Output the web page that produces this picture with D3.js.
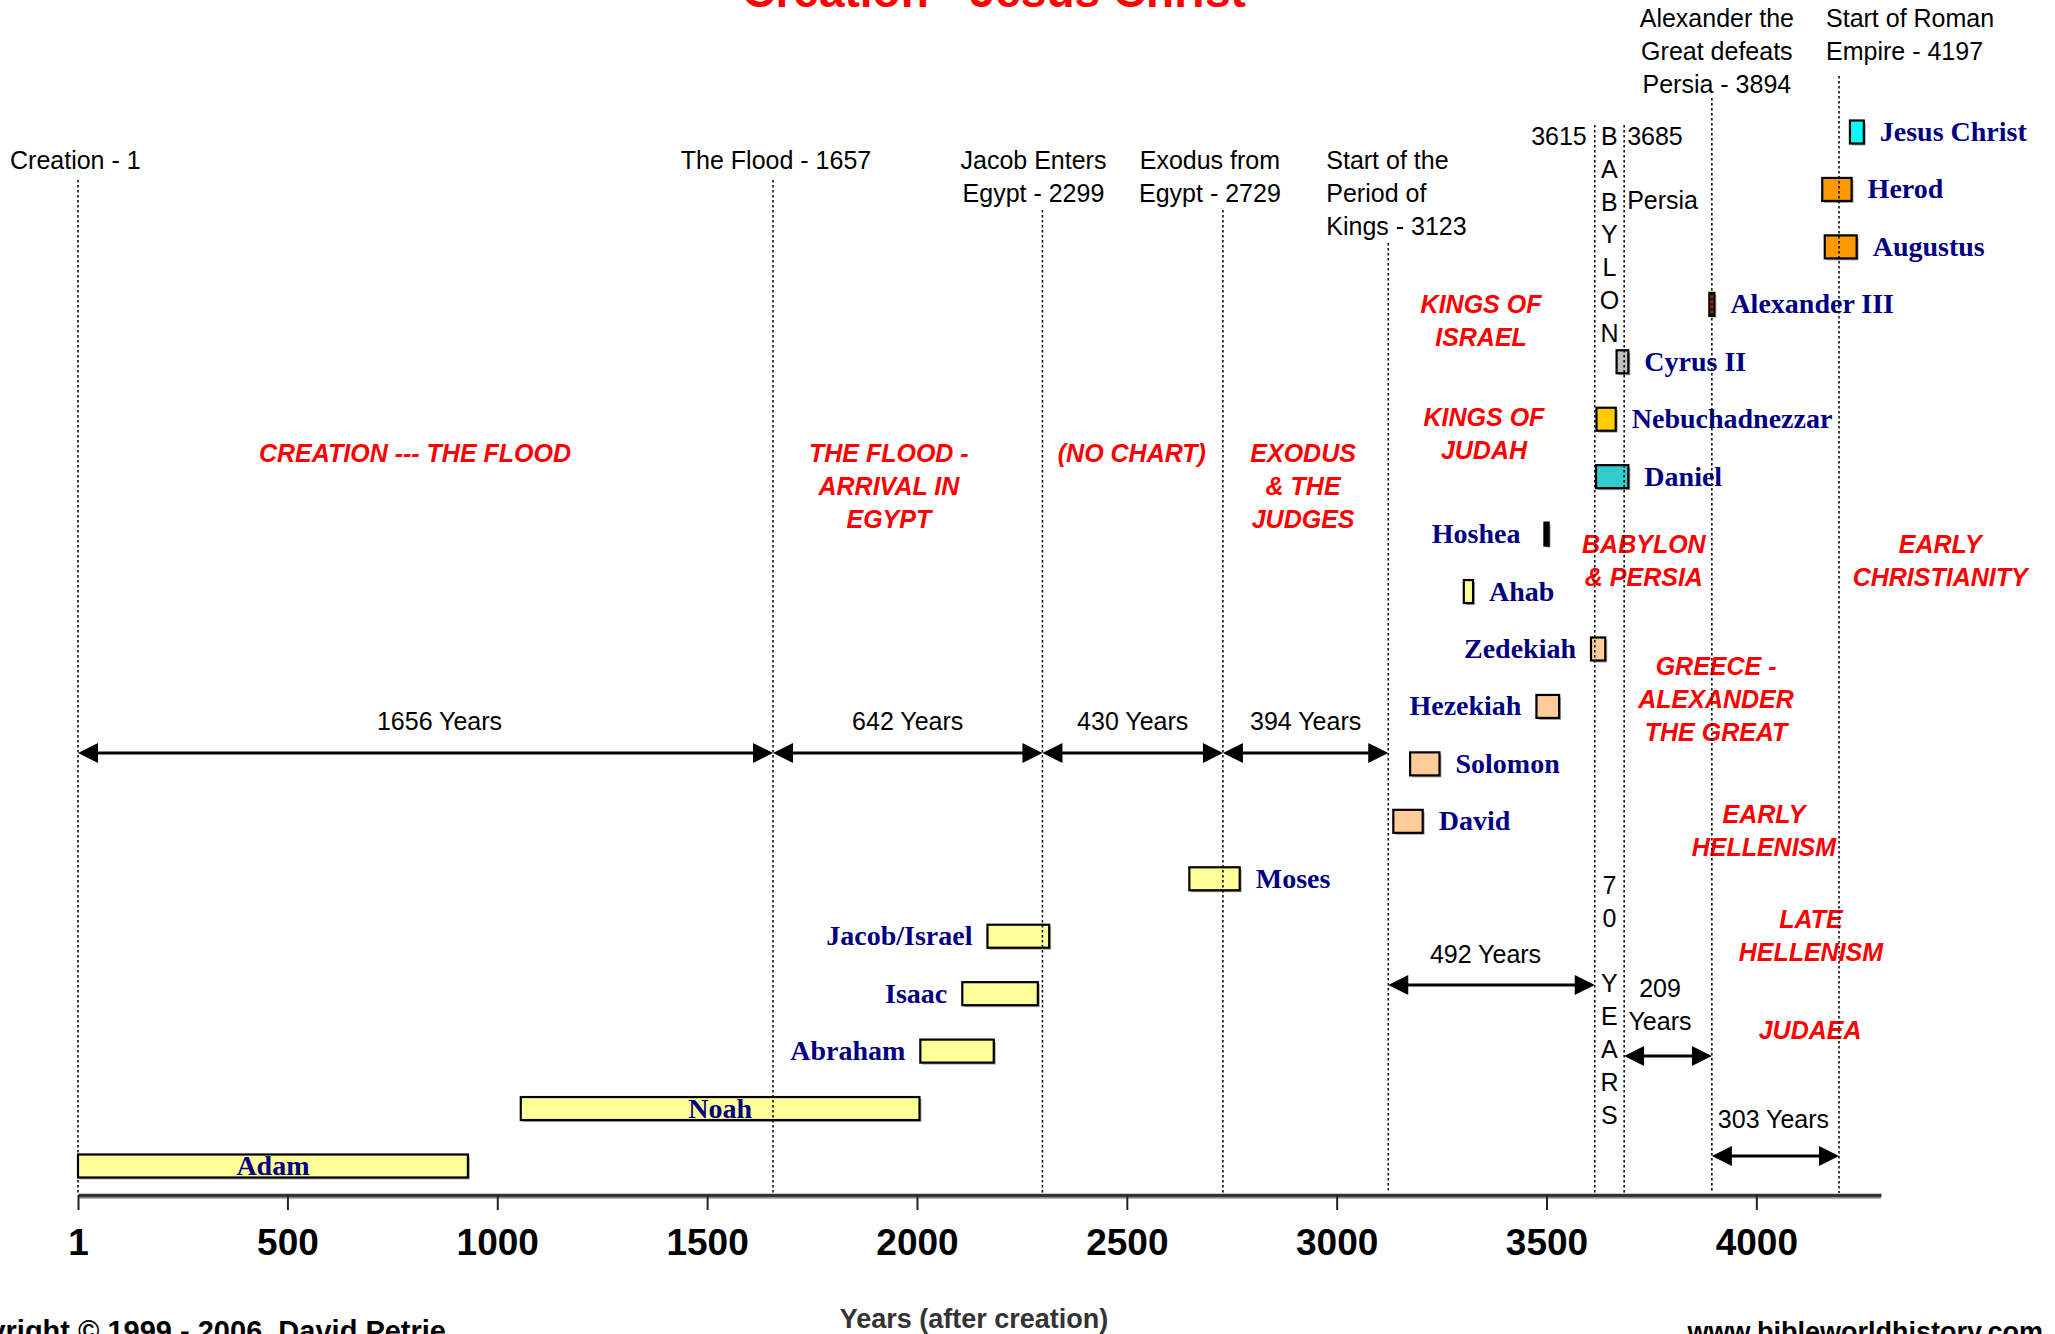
<!DOCTYPE html>
<html>
<head>
<meta charset="utf-8">
<script src="https://cdn.jsdelivr.net/npm/d3@7"></script>
<style>
  html, body { margin: 0; padding: 0; background: #ffffff; }
  svg { display: block; }
</style>
</head>
<body>
<svg id="chart" width="2055" height="1334"></svg>
<script>
// ---------------- DATA ----------------
const people    = ["Adam","Noah","Abraham","Isaac","Jacob/Israel","Moses","David","Solomon","Hezekiah","Zedekiah","Ahab","Hoshea","Daniel","Nebuchadnezzar","Cyrus II","Alexander III","Augustus","Herod","Jesus Christ"];
const bornYears = [1,   1056, 2008, 2108, 2168, 2649, 3135, 3175, 3476, 3606, 3303, 3495, 3618, 3619, 3667, 3888, 4163, 4157, 4223];
const endYears  = [930, 2006, 2183, 2288, 2315, 2769, 3205, 3245, 3530, 3640, 3325, 3505, 3695, 3665, 3695, 3900, 4239, 4227, 4256];

const eventYears  = [1, 1657, 2299, 2729, 3123, 3615, 3685, 3894, 4197];
const eventLabels = [
  ["Creation - 1"],
  ["The Flood - 1657"],
  ["Jacob Enters", "Egypt - 2299"],
  ["Exodus from", "Egypt - 2729"],
  ["Start of the", "Period of", "Kings - 3123"],
  ["3615"],
  ["3685"],
  ["Alexander the", "Great defeats", "Persia - 3894"],
  ["Start of Roman", "Empire - 4197"]
];

const spanStarts = [1, 1657, 2299, 2729, 3123, 3685, 3894];
const spanEnds   = [1657, 2299, 2729, 3123, 3615, 3894, 4197];
const spanLabels = [["1656 Years"], ["642 Years"], ["430 Years"], ["394 Years"], ["492 Years"], ["209", "Years"], ["303 Years"]];

const eraLabels = [
  ["CREATION --- THE FLOOD"],
  ["THE FLOOD -", "ARRIVAL IN", "EGYPT"],
  ["(NO CHART)"],
  ["EXODUS", "& THE", "JUDGES"],
  ["KINGS OF", "ISRAEL"],
  ["KINGS OF", "JUDAH"],
  ["BABYLON", "& PERSIA"],
  ["EARLY", "CHRISTIANITY"],
  ["GREECE -", "ALEXANDER", "THE GREAT"],
  ["EARLY", "HELLENISM"],
  ["LATE", "HELLENISM"],
  ["JUDAEA"]
];

const babylonLetters = ["B","A","B","Y","L","O","N"];
const seventyLetters = ["7","0"," ","Y","E","A","R","S"];
const persiaLabel = "Persia";

const tickValues = [1, 500, 1000, 1500, 2000, 2500, 3000, 3500, 4000];
const chartTitle = "Creation - Jesus Christ";
const axisTitle = "Years (after creation)";
const copyrightText = "Copyright \u00A9 1999 - 2006, David Petrie";
const siteText = "www.bibleworldhistory.com";

// ---------------- STYLE / LAYOUT ----------------
const barFill = {
  "Adam":"#FFFF99","Noah":"#FFFF99","Abraham":"#FFFF99","Isaac":"#FFFF99","Jacob/Israel":"#FFFF99","Moses":"#FFFF99",
  "David":"#FFCC99","Solomon":"#FFCC99","Hezekiah":"#FFCC99","Zedekiah":"#FFCC99","Ahab":"#FFFF99","Hoshea":"#000000",
  "Daniel":"#33CCCC","Nebuchadnezzar":"#FFCC00","Cyrus II":"#C0C0C0","Alexander III":"#993300",
  "Augustus":"#FF9900","Herod":"#FF9900","Jesus Christ":"#00FFFF"
};
const labelSide = {
  "Adam":"inside","Noah":"inside","Abraham":"left","Isaac":"left","Jacob/Israel":"left","Hezekiah":"left",
  "Zedekiah":"left","Hoshea":"left"
};
const labelGap = { "Hoshea": 24 };
const eventLineTop = [180, 180, 210, 210, 243, 125, 125, 98, 76];
const eventLabelLayout = [ // [anchor, dx from line, y of first line]
  ["start", -68, 160], ["middle", 3, 160], ["middle", -9, 160], ["middle", -13, 160],
  ["start", -62, 160], ["end", -8, 136], ["start", 3, 136], ["middle", 5, 18], ["start", -13, 18]
];
const spanY = [753, 753, 753, 753, 985, 1056, 1156];
const spanLabelY = [721, 721, 721, 721, 954, 988, 1119];
const spanLabelDx = [14, 0, 0, 0, -6, -8, -2];
const eraPos = [ // [year for x centre, y of first line]
  [804, 453], [1933, 453], [2512, 453], [2920, 453], [3344, 304], [3351, 417],
  [3732, 544], [4438, 544], [3904, 666], [4018, 814], [4130, 919], [4128, 1030]
];

const W = 2055, H = 1334;
const axisY = 1195;
const lineH = 33;
const barH = 23;
const sans = "'Liberation Sans', Arial, sans-serif";
const serif = "'Liberation Serif', 'Times New Roman', serif";

const svg = d3.select("#chart");
svg.append("rect").attr("width", W).attr("height", H).attr("fill", "#ffffff");

// ---------------- SCALES ----------------
const x = d3.scaleLinear().domain([1, 4297]).range([78, 1881]);
const y = d3.scalePoint().domain(people).range([1166, 132]);

// ---------------- TITLE ----------------
svg.append("text")
  .attr("x", 994).attr("y", 7)
  .attr("text-anchor", "middle")
  .attr("font-family", sans).attr("font-weight", "bold").attr("font-size", 46)
  .attr("fill", "#FF0000")
  .text(chartTitle);

// ---------------- AXIS ----------------
const axisG = svg.append("g").attr("transform", `translate(0,${axisY})`);
axisG.append("line")
  .attr("x1", x(1)).attr("x2", x(4297)).attr("y1", 3).attr("y2", 3)
  .attr("stroke", "#b0b0b0").attr("stroke-width", 2);
axisG.call(d3.axisBottom(x).tickValues(tickValues).tickSize(15).tickSizeOuter(0).tickPadding(19).tickFormat(d3.format("d")));
axisG.select(".domain").attr("stroke", "#333").attr("stroke-width", 3.5);
axisG.selectAll(".tick line").attr("stroke", "#222").attr("stroke-width", 2);
axisG.selectAll(".tick text")
  .attr("font-family", sans).attr("font-weight", "bold").attr("font-size", 37).attr("fill", "#000");

svg.append("text")
  .attr("x", 974).attr("y", 1328)
  .attr("text-anchor", "middle")
  .attr("font-family", sans).attr("font-weight", "bold").attr("font-size", 27)
  .attr("fill", "#333")
  .text(axisTitle);

svg.append("text")
  .attr("x", 446).attr("y", 1341)
  .attr("text-anchor", "end")
  .attr("font-family", sans).attr("font-weight", "bold").attr("font-size", 29)
  .attr("fill", "#000")
  .text(copyrightText);

svg.append("text")
  .attr("x", 2043).attr("y", 1341)
  .attr("text-anchor", "end")
  .attr("font-family", sans).attr("font-weight", "bold").attr("font-size", 27)
  .attr("fill", "#000")
  .text(siteText);

// ---------------- BARS ----------------
const rows = people.map((p, i) => ({ name: p, start: bornYears[i], end: endYears[i] }));
const barG = svg.append("g");
barG.selectAll("rect.shadow").data(rows).join("rect")
  .attr("class", "shadow")
  .attr("x", d => x(d.start) + 2).attr("y", d => y(d.name) - barH / 2 + 2)
  .attr("width", d => Math.max(2, x(d.end) - x(d.start))).attr("height", barH)
  .attr("fill", "#a8a8a8");
barG.selectAll("rect.bar").data(rows).join("rect")
  .attr("class", "bar")
  .attr("x", d => x(d.start)).attr("y", d => y(d.name) - barH / 2)
  .attr("width", d => Math.max(2, x(d.end) - x(d.start))).attr("height", barH)
  .attr("fill", d => barFill[d.name])
  .attr("stroke", "#000").attr("stroke-width", 2.2);

barG.selectAll("text.name").data(rows).join("text")
  .attr("class", "name")
  .attr("x", d => {
    const side = labelSide[d.name] || "right";
    const gap = labelGap[d.name] || 15;
    if (side === "inside") return (x(d.start) + x(d.end)) / 2;
    if (side === "left") return x(d.start) - gap;
    return x(d.end) + gap + 1;
  })
  .attr("y", d => y(d.name) + 9)
  .attr("text-anchor", d => {
    const side = labelSide[d.name] || "right";
    return side === "inside" ? "middle" : side === "left" ? "end" : "start";
  })
  .attr("font-family", serif).attr("font-weight", "bold").attr("font-size", 28)
  .attr("fill", "#000080")
  .text(d => d.name);

// ---------------- SPAN ARROWS ----------------
const headL = 20, headW = 10;
const spans = spanStarts.map((s, i) => ({ s, e: spanEnds[i], y: spanY[i], ly: spanLabelY[i], dx: spanLabelDx[i], lab: spanLabels[i] }));
const spanG = svg.append("g");
spans.forEach(sp => {
  const x0 = x(sp.s), x1 = x(sp.e);
  spanG.append("line")
    .attr("x1", x0 + 4).attr("x2", x1 - 4).attr("y1", sp.y).attr("y2", sp.y)
    .attr("stroke", "#000").attr("stroke-width", 3);
  spanG.append("path")
    .attr("d", `M${x0},${sp.y} L${x0 + headL},${sp.y - headW} L${x0 + headL},${sp.y + headW} Z`)
    .attr("fill", "#000");
  spanG.append("path")
    .attr("d", `M${x1},${sp.y} L${x1 - headL},${sp.y - headW} L${x1 - headL},${sp.y + headW} Z`)
    .attr("fill", "#000");
  sp.lab.forEach((t, k) => {
    spanG.append("text")
      .attr("x", (x0 + x1) / 2 + sp.dx).attr("y", sp.ly + k * lineH + 9)
      .attr("text-anchor", "middle")
      .attr("font-family", sans).attr("font-size", 25).attr("fill", "#000")
      .text(t);
  });
});

// ---------------- ERA LABELS ----------------
const eraG = svg.append("g");
eraLabels.forEach((lines, i) => {
  lines.forEach((t, k) => {
    eraG.append("text")
      .attr("x", x(eraPos[i][0])).attr("y", eraPos[i][1] + k * lineH + 9)
      .attr("text-anchor", "middle")
      .attr("font-family", sans).attr("font-weight", "bold").attr("font-style", "italic")
      .attr("font-size", 25).attr("fill", "#FF0000")
      .text(t);
  });
});

// ---------------- EVENT LABELS ----------------
const evG = svg.append("g");
eventYears.forEach((yr, i) => {
  const [anchor, dx, y0] = eventLabelLayout[i];
  eventLabels[i].forEach((t, k) => {
    evG.append("text")
      .attr("x", x(yr) + dx).attr("y", y0 + k * lineH + 9)
      .attr("text-anchor", anchor)
      .attr("font-family", sans).attr("font-size", 25).attr("fill", "#000")
      .text(t);
  });
});
evG.append("text")
  .attr("x", x(3685) + 3).attr("y", 200 + 9)
  .attr("font-family", sans).attr("font-size", 25).attr("fill", "#000")
  .text(persiaLabel);
const midBab = (x(3615) + x(3685)) / 2;
babylonLetters.forEach((c, k) => {
  evG.append("text")
    .attr("x", midBab).attr("y", 136 + k * 32.8 + 9)
    .attr("text-anchor", "middle")
    .attr("font-family", sans).attr("font-size", 25).attr("fill", "#000")
    .text(c);
});
seventyLetters.forEach((c, k) => {
  evG.append("text")
    .attr("x", midBab).attr("y", 885 + k * 32.8 + 9)
    .attr("text-anchor", "middle")
    .attr("font-family", sans).attr("font-size", 25).attr("fill", "#000")
    .text(c);
});

// ---------------- EVENT LINES (on top) ----------------
svg.append("g").selectAll("line").data(eventYears).join("line")
  .attr("x1", d => x(d)).attr("x2", d => x(d))
  .attr("y1", (d, i) => eventLineTop[i]).attr("y2", axisY - 2)
  .attr("stroke", "#000").attr("stroke-width", 1.5)
  .attr("stroke-dasharray", "2.5,2.5");
</script>
</body>
</html>
